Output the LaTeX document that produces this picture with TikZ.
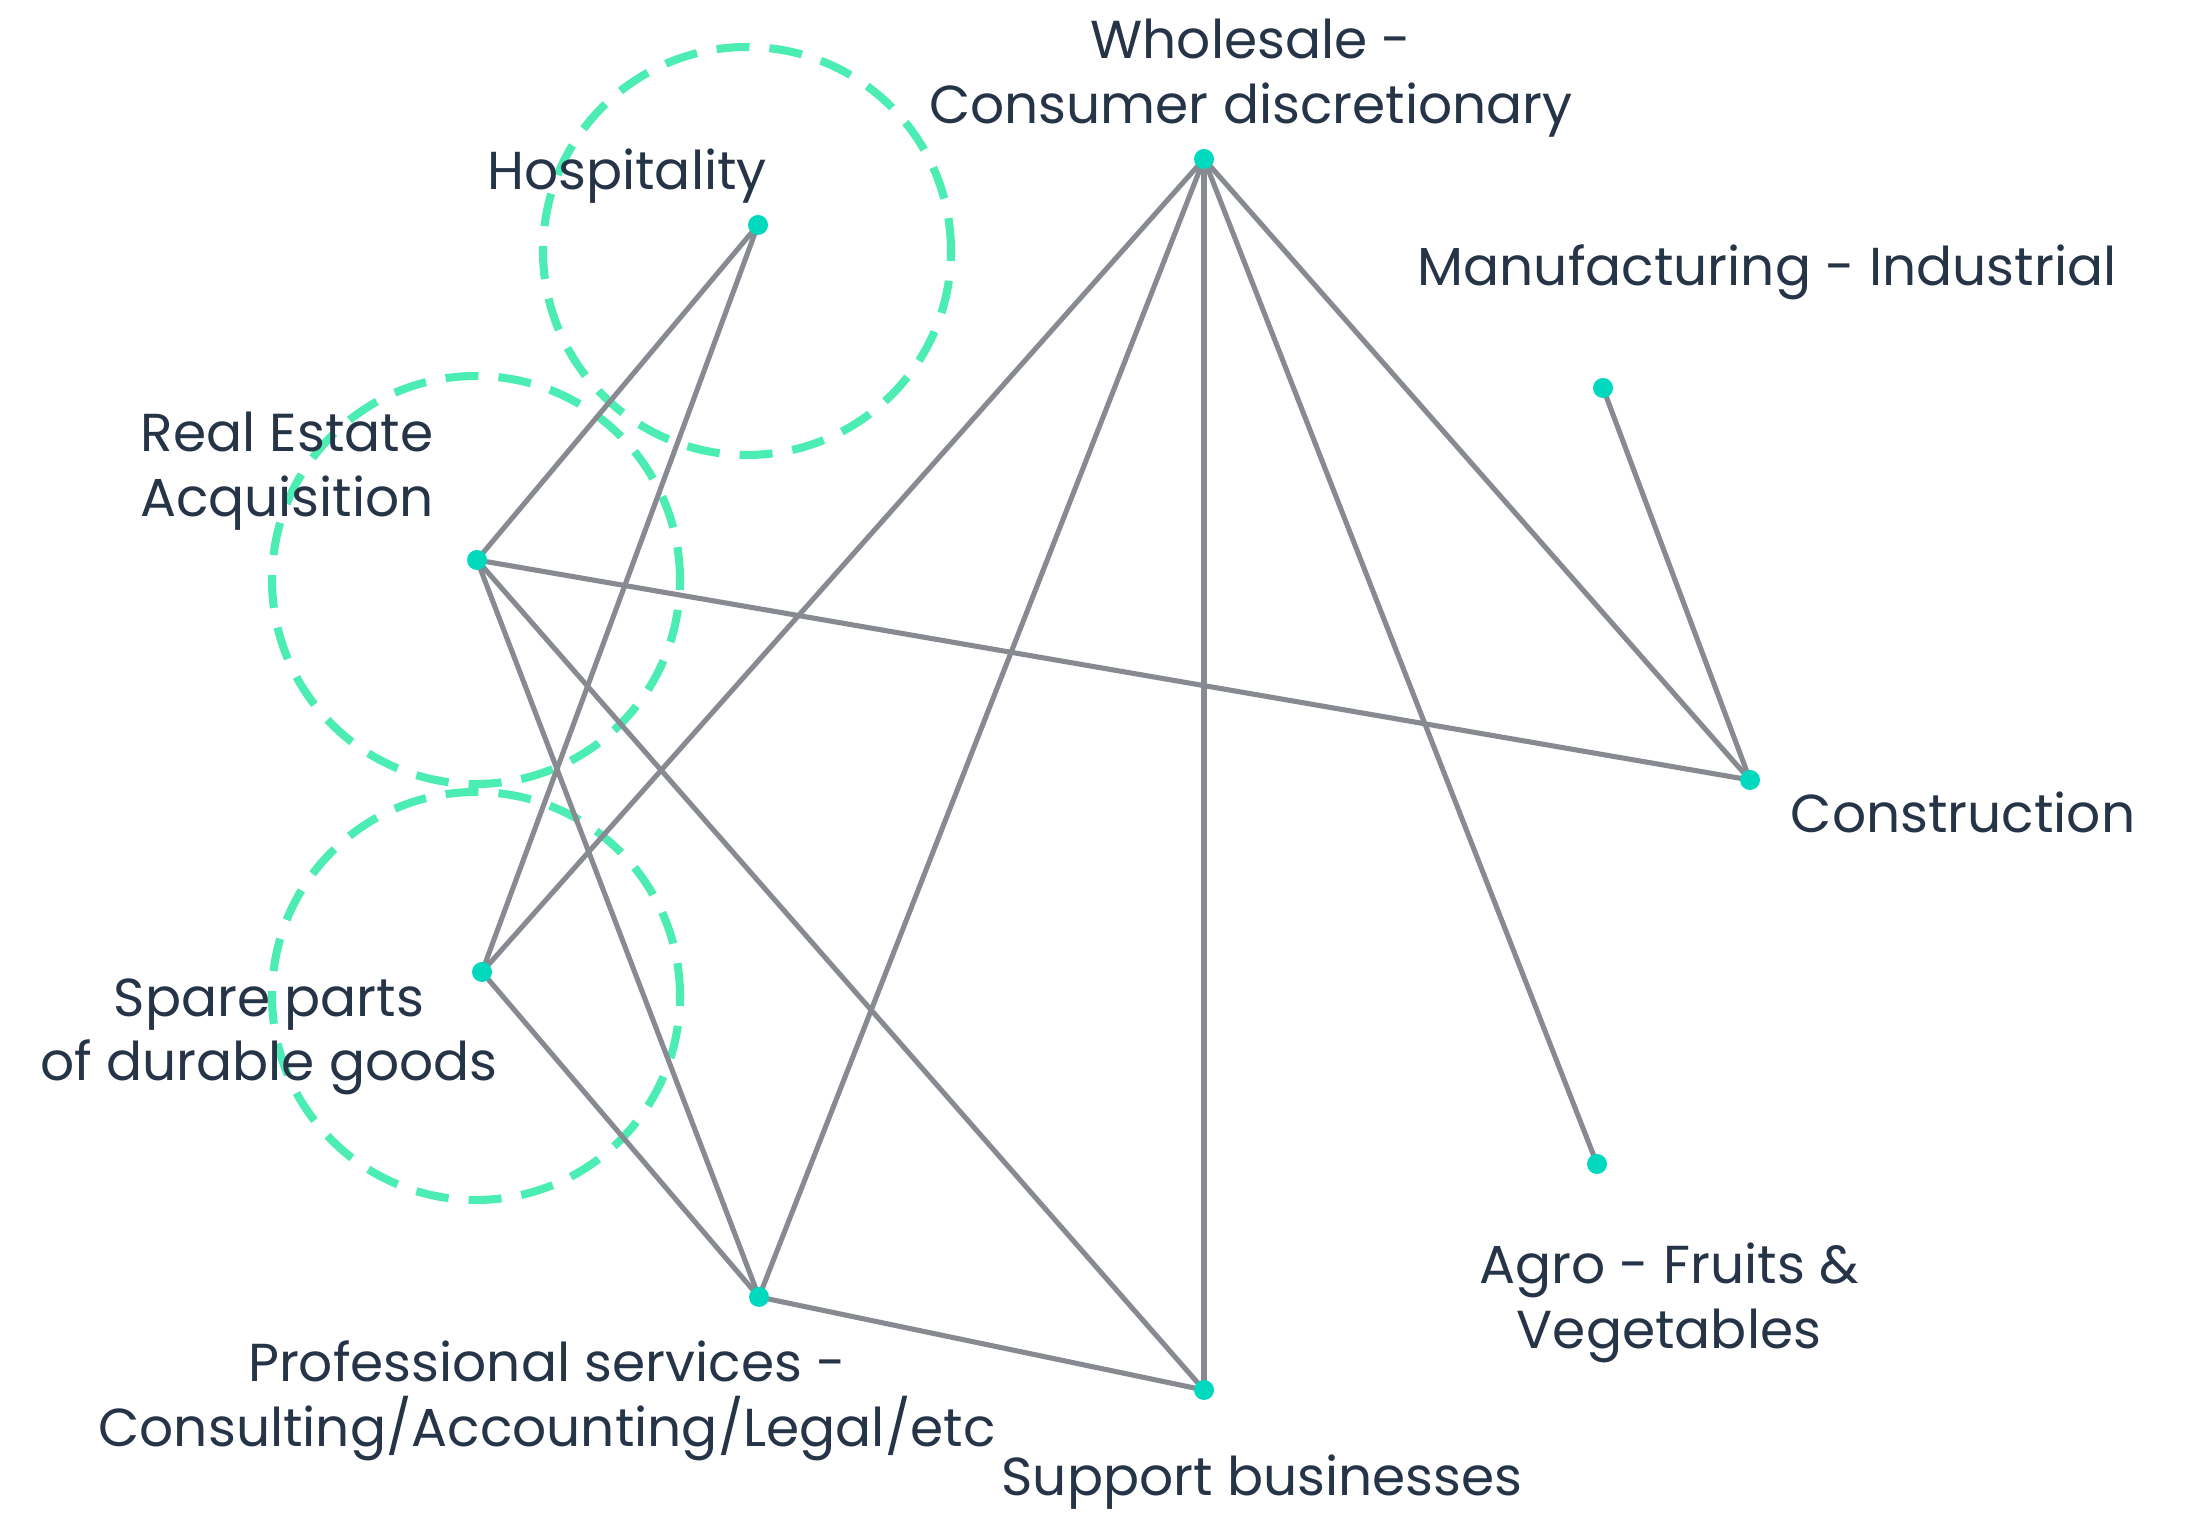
\documentclass[tikz,border=0pt]{standalone}
\usepackage{fontspec}
\setmainfont{Poppins}
\usepackage{xcolor}
\usetikzlibrary{positioning}

\definecolor{edgegray}{HTML}{878B91}
\definecolor{dotteal}{HTML}{00D9BE}
\definecolor{ringgreen}{HTML}{4CEDB2}
\definecolor{labelnavy}{HTML}{263448}

\begin{document}
\begin{tikzpicture}[dot/.style={circle, fill=dotteal, inner sep=0pt, minimum size=0.2cm}, sector/.style={text=labelnavy, font=\fontsize{15.2}{18.4}\selectfont, align=center, inner sep=0pt}, link/.style={draw=edgegray, line width=1.45pt}, ring/.style={draw=ringgreen, line width=2.3pt, dash pattern=on 0.33cm off 0.2cm}]
  \useasboundingbox (0,0) rectangle (21.94,15.13);

  % clusters
  \draw[ring] (7.47,12.62) circle (2.04);
  \draw[ring] (4.76,9.33) circle (2.04);
  \draw[ring] (4.76,5.17) circle (2.04);

  % sectors
  \coordinate (wholesale) at (12.04,13.54);
  \coordinate (hosp) at (7.58,12.88);
  \coordinate (manuf) at (16.03,11.25);
  \coordinate (realest) at (4.77,9.53);
  \coordinate (constr) at (17.50,7.33);
  \coordinate (spare) at (4.82,5.41);
  \coordinate (agro) at (15.97,3.49);
  \coordinate (prof) at (7.59,2.16);
  \coordinate (support) at (12.04,1.23);

  \draw[link] (hosp) -- (realest);
  \draw[link] (hosp) -- (spare);
  \draw[link] (wholesale) -- (spare);
  \draw[link] (wholesale) -- (prof);
  \draw[link] (wholesale) -- (support);
  \draw[link] (wholesale) -- (agro);
  \draw[link] (wholesale) -- (constr);
  \draw[link] (manuf) -- (constr);
  \draw[link] (realest) -- (constr);
  \draw[link] (realest) -- (prof);
  \draw[link] (realest) -- (support);
  \draw[link] (spare) -- (prof);
  \draw[link] (prof) -- (support);

  \foreach \s in {wholesale,hosp,manuf,realest,constr,spare,agro,prof,support}
    \node[dot] (\s dot) at (\s) {};

  % labels
  \node[sector] (wholesalelbl) at (12.51,14.35) {Wholesale -\\Consumer discretionary};
  \node[sector] (hosplbl) at (6.27,13.37) {Hospitality};
  \node[sector] (manuflbl) at (17.67,12.41) {Manufacturing - Industrial};
  \node[sector] (realestlbl) at (2.87,10.42) {Real Estate\\Acquisition};
  \node[sector] (constrlbl) at (19.63,7.01) {Construction};
  \node[sector] (sparelbl) at (2.69,4.76) {Spare parts\\of durable goods};
  \node[sector] (agrolbl) at (16.69,2.10) {Agro - Fruits \&\\Vegetables};
  \node[sector] (proflbl) at (5.47,1.12) {Professional services -\\Consulting/Accounting/Legal/etc};
  \node[sector] (supportlbl) at (12.62,0.31) {Support businesses};
\end{tikzpicture}
\end{document}
